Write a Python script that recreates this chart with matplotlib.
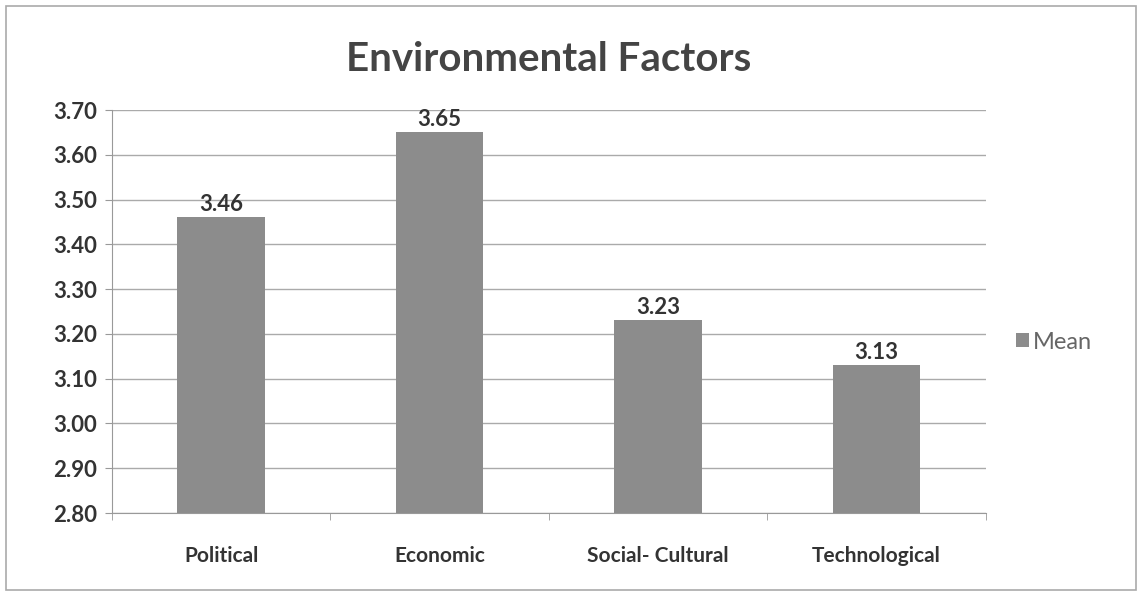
import matplotlib.pyplot as plt
from matplotlib.patches import Rectangle

categories = ["Political", "Economic", "Social- Cultural", "Technological"]
means = [3.46, 3.65, 3.23, 3.13]
yticks = [2.80, 2.90, 3.00, 3.10, 3.20, 3.30, 3.40, 3.50, 3.60, 3.70]

plt.rcParams['font.family'] = ['Lato', 'DejaVu Sans']

fig = plt.figure(figsize=(11.42, 5.97), dpi=100)
ax = fig.add_axes([0.098, 0.1407, 0.765, 0.675])

x = range(len(categories))
bars = ax.bar(x, [m - 2.80 for m in means], bottom=2.80, width=0.4,
              color="#8c8c8c", label="Mean", zorder=3)
for i, m in enumerate(means):
    ax.text(i, m + 0.006, "%.2f" % m, ha="center", va="bottom",
            fontsize=16, fontweight="bold", color="#333333")

ax.set_xlim(-0.5, len(categories) - 0.5)
ax.set_ylim(2.80, 3.70)
ax.set_yticks(yticks)
ax.set_yticklabels(["%.2f" % v for v in yticks], fontsize=16,
                   fontweight="bold", color="#333333")
ax.set_xticks(list(x))
ax.set_xticklabels(categories, fontsize=15, fontweight="bold", color="#333333")
ax.set_xticks([i + 0.5 for i in range(-1, len(categories))], minor=True)
ax.tick_params(axis="x", which="major", length=0, pad=24)
ax.tick_params(axis="x", which="minor", length=5, color="#999999")
ax.tick_params(axis="y", length=5, color="#999999", pad=6)
ax.grid(axis="y", color="#aaaaaa", linewidth=1, zorder=0)
for s in ["top", "right"]:
    ax.spines[s].set_visible(False)
for s in ["left", "bottom"]:
    ax.spines[s].set_color("#999999")

ax.set_title("Environmental Factors", fontsize=29, fontweight="bold",
             color="#444444", pad=28)

ax.legend(loc="center left", bbox_to_anchor=(1.01, 0.424), frameon=False,
          fontsize=17, handlelength=0.55, handleheight=0.55, handletextpad=0.2,
          labelcolor="#666666")

fig.patches.append(Rectangle((0.005, 0.012), 0.99, 0.978, transform=fig.transFigure,
                             fill=False, edgecolor="#aaaaaa", linewidth=1.2))

plt.savefig("out.png", dpi=100)
